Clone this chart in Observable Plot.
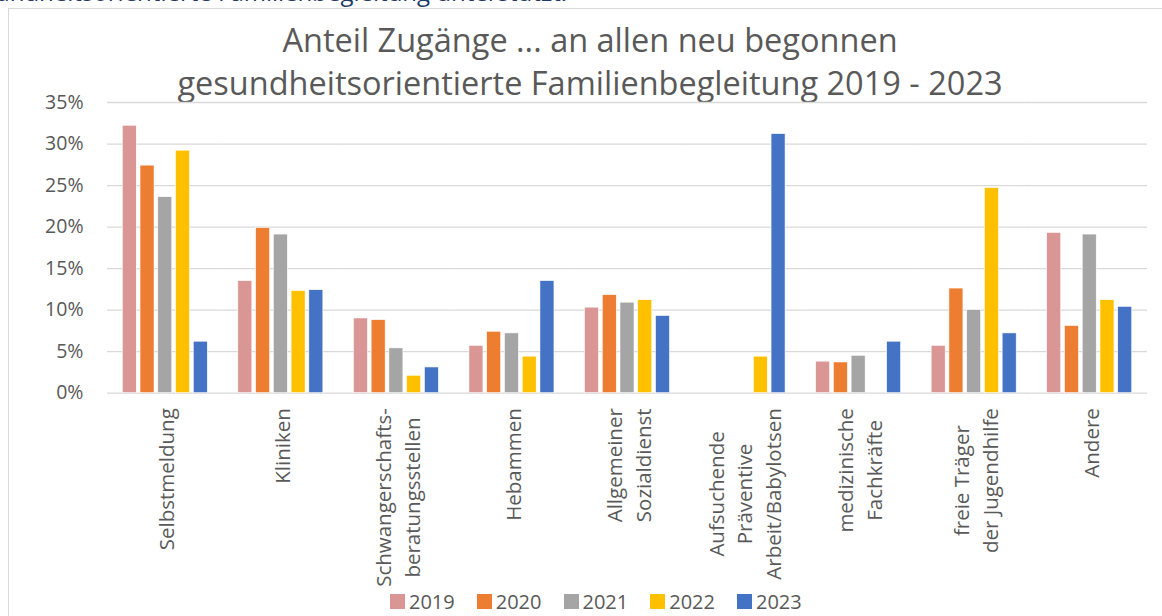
<!DOCTYPE html>
<html><head><meta charset="utf-8">
<script src="https://cdn.jsdelivr.net/npm/d3@7"></script>
<script src="https://cdn.jsdelivr.net/npm/@observablehq/plot@0.6"></script>
<style>
html,body{margin:0;padding:0;background:#fff;}
#wrap{position:relative;width:1162px;height:616px;overflow:hidden;font-family:"Open Sans",sans-serif;}
#doc{position:absolute;right:595px;top:-20px;font-size:24px;line-height:24px;color:#1f3864;white-space:nowrap;}
#border{position:absolute;left:8px;top:8px;width:1165px;height:640px;border:1.5px solid #d9d9d9;box-sizing:border-box;}
#title{position:absolute;left:590px;top:18px;transform:translateX(-50%);text-align:center;font-size:32.5px;line-height:43px;color:#595959;white-space:nowrap;}
#chart{position:absolute;left:0;top:90px;}
#legend{position:absolute;left:390px;top:584px;}
.lg-swatches{font-family:"Open Sans",sans-serif;font-size:20px;color:#595959;margin:0;}
.lg-swatches-wrap{min-height:34px;}
.lg-swatch{margin-right:22px;}
.lg-swatch svg{margin-right:4px;}
</style></head>
<body>
<div id="wrap">
  <div id="doc">gesundheitsorientierte Familienbegleitung unterstützt.</div>
  <div id="border"></div>
  <div id="title">Anteil Zugänge ... an allen neu begonnen<br>gesundheitsorientierte Familienbegleitung 2019 - 2023</div>
  <div id="chart"></div>
  <div id="legend"></div>
</div>
<script>
const categories = [
  "Selbstmeldung",
  "Kliniken",
  "Schwangerschafts-\nberatungsstellen",
  "Hebammen",
  "Allgemeiner\nSozialdienst",
  "Aufsuchende\nPräventive\nArbeit/Babylotsen",
  "medizinische\nFachkräfte",
  "freie Träger\nder Jugendhilfe",
  "Andere"
];
const years = ["2019", "2020", "2021", "2022", "2023"];
const v2019 = [0.322, 0.135, 0.090, 0.057, 0.103, null, 0.038, 0.057, 0.193];
const v2020 = [0.274, 0.199, 0.088, 0.074, 0.118, null, 0.037, 0.126, 0.081];
const v2021 = [0.236, 0.191, 0.054, 0.072, 0.109, null, 0.045, 0.100, 0.191];
const v2022 = [0.292, 0.123, 0.021, 0.044, 0.112, 0.044, null, 0.247, 0.112];
const v2023 = [0.062, 0.124, 0.031, 0.135, 0.093, 0.312, 0.062, 0.072, 0.104];
const yTicks = [0, 0.05, 0.10, 0.15, 0.20, 0.25, 0.30, 0.35];
const colors = ["#da9694", "#ed7d31", "#a5a5a5", "#ffc000", "#4472c4"];

const series = [v2019, v2020, v2021, v2022, v2023];
const rows = [];
series.forEach((vals, yi) => vals.forEach((v, ci) => {
  if (v != null) rows.push({cat: categories[ci], year: years[yi], value: v});
}));

const labelSize = 20.5;
const ctx = document.createElement("canvas").getContext("2d");
ctx.font = `${labelSize}px "Open Sans"`;
const pads = categories.map(c => 15 + d3.max(c.split("\n"), s => ctx.measureText(s).width) / 2);

const chart = Plot.plot({
  width: 1162,
  height: 505,
  marginLeft: 107,
  marginRight: 15,
  marginTop: 12,
  marginBottom: 202.3,
  style: {fontFamily: '"Open Sans", sans-serif', color: "#595959", background: "transparent", overflow: "visible"},
  fx: {domain: categories, padding: 0, round: false, label: null, axis: null},
  x: {domain: years, paddingInner: 0.21, paddingOuter: 0.86, round: false, axis: null},
  y: {domain: [0, 0.35], axis: null},
  color: {domain: years, range: colors},
  marks: [
    Plot.ruleY(yTicks, {stroke: "#d9d9d9", strokeWidth: 1.3}),
    Plot.barY(rows, {fx: "cat", x: "year", y: "value", fill: "year", stroke: "#ffffff", strokeWidth: 0.6}),
    Plot.axisY(yTicks, {tickFormat: d3.format(".0%"), tickSize: 0, tickPadding: 24, fontSize: 19.5, label: null}),
    ...categories.map((c, i) => Plot.text([c], {
      fx: d => d, text: d => d, frameAnchor: "bottom", dy: pads[i], rotate: -90,
      textAnchor: "middle", lineAnchor: "middle", lineHeight: 1.4, fontSize: labelSize, fill: "#595959"
    }))
  ]
});
document.getElementById("chart").appendChild(chart);

const legend = chart.legend("color", {swatchSize: 15, className: "lg"});
document.getElementById("legend").appendChild(legend);
</script>
</body></html>
